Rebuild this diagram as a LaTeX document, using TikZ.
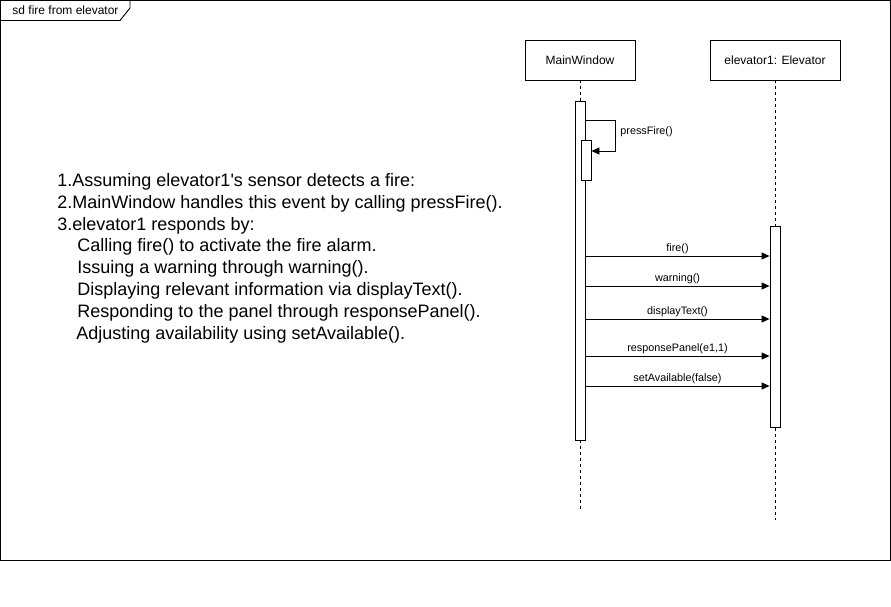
\documentclass[tikz,border=0pt]{standalone}
\usepackage{fontspec}
\setmainfont{Liberation Sans}
\newfontfamily\descfont{Liberation Sans}
\usetikzlibrary{arrows.meta}
\begin{document}
\begin{tikzpicture}[x=1pt,y=-1pt,line width=0.9pt,
  objbox/.style={draw,fill=white,inner sep=0pt,font=\fontsize{12}{14}\selectfont},
  actbar/.style={draw,fill=white,inner sep=0pt,minimum width=10pt},
  lifeline/.style={dash pattern=on 3pt off 3pt},
  msg/.style={-{Triangle[length=8pt,width=7pt]}},
  lbl/.style={font=\fontsize{10.8}{12}\selectfont,inner sep=0pt},
  desc/.style={font=\descfont\fontsize{18}{21.6}\selectfont,inner sep=0pt,anchor=base west}]
\useasboundingbox (0,0) rectangle (891,606);
% frame
\draw (0.5,0.5) rectangle (890.5,560.5);
\draw (0.5,0.5) -- (130,0.5) -- (130,8) -- (120,20.5) -- (0.5,20.5);
\node[font=\fontsize{12}{14}\selectfont,inner sep=0pt,anchor=base west] (title) at (12,14.5) {sd fire from elevator};
% objects
\node[objbox,minimum width=110pt,minimum height=40pt] (mw) at (580,60) {MainWindow};
\node[objbox,minimum width=130pt,minimum height=40pt] (el) at (775,60) {elevator1: Elevator};
\coordinate (mwend) at (580,510);
\coordinate (elend) at (775,520);
\draw[lifeline] (mw.south) -- (mwend);
\draw[lifeline] (el.south) -- (elend);
% activations
\node[actbar,minimum height=339pt] (mwact) at (580,270.5) {};
\node[actbar,minimum height=40pt] (mwact2) at (586,160) {};
\node[actbar,minimum height=201pt] (elact) at (775,326.5) {};
% self call
\draw[msg] (mwact.east |- 0,120) -- (615,120) |- (mwact2.east |- 0,151);
\node[lbl,anchor=west] (pf) at (620,132) {pressFire()};
% messages
\draw[msg] (mwact.east |- 0,256) -- node[lbl,anchor=base,yshift=5pt] (m1) {fire()} (elact.west |- 0,256);
\draw[msg] (mwact.east |- 0,286) -- node[lbl,anchor=base,yshift=5pt] (m2) {warning()} (elact.west |- 0,286);
\draw[msg] (mwact.east |- 0,319) -- node[lbl,anchor=base,yshift=5pt] (m3) {displayText()} (elact.west |- 0,319);
\draw[msg] (mwact.east |- 0,356) -- node[lbl,anchor=base,yshift=5pt] (m4) {responsePanel(e1,1)} (elact.west |- 0,356);
\draw[msg] (mwact.east |- 0,386) -- node[lbl,anchor=base,yshift=5pt] (m5) {setAvailable(false)} (elact.west |- 0,386);
% description
\node[desc] (t1) at (57,186.5) {1.Assuming elevator1's sensor detects a fire:};
\node[desc] (t2) at (57,208.3) {2.MainWindow handles this event by calling pressFire().};
\node[desc] (t3) at (57,230.1) {3.elevator1 responds by:};
\node[desc] (t4) at (77,251.9) {Calling fire() to activate the fire alarm.};
\node[desc] (t5) at (77,273.7) {Issuing a warning through warning().};
\node[desc] (t6) at (77,295.5) {Displaying relevant information via displayText().};
\node[desc] (t7) at (77,317.3) {Responding to the panel through responsePanel().};
\node[desc] (t8) at (76,339.1) {Adjusting availability using setAvailable().};
\end{tikzpicture}
\end{document}
